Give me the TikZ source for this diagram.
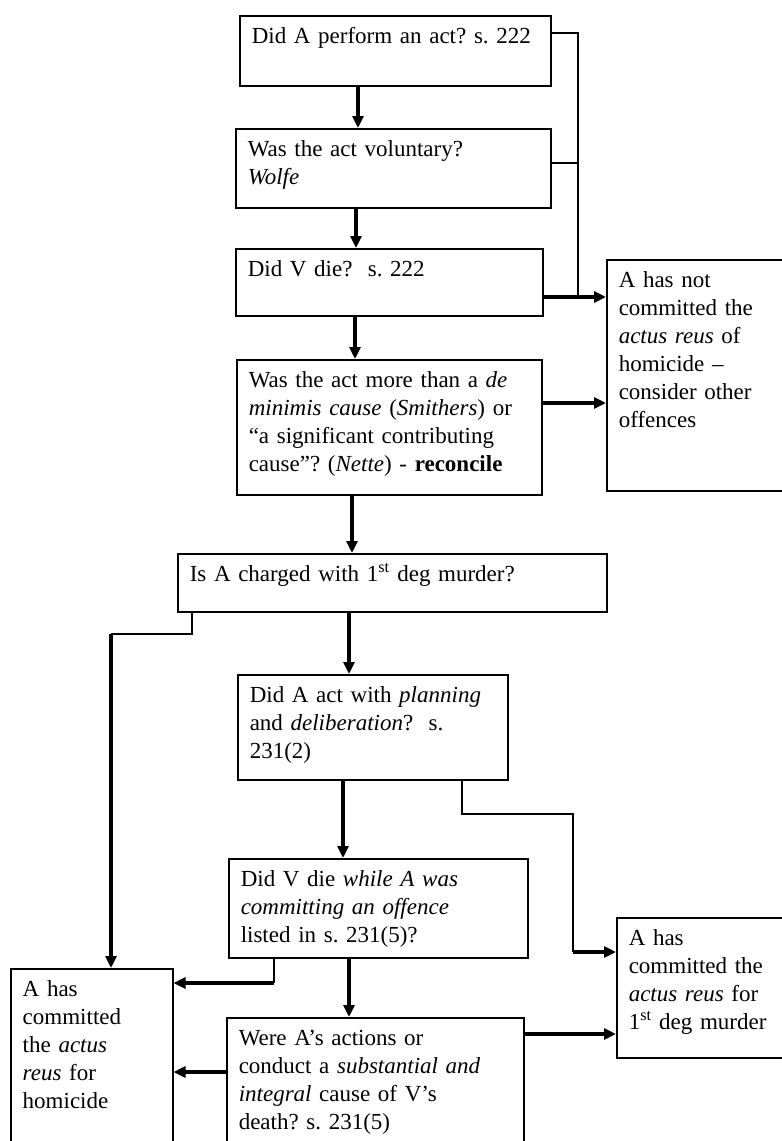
\documentclass[tikz,border=0pt]{standalone}
\usepackage{fontspec}
\setmainfont{Liberation Serif}
\usetikzlibrary{arrows.meta}
\frenchspacing

\begin{document}
\begin{tikzpicture}[x=1pt, y=-1pt,
  qbox/.style={draw, line width=1.5pt, anchor=north west, align=left,
    inner xsep=12pt, inner ysep=10pt, text height=18pt,
    font=\fontsize{23}{28}\selectfont},
  thinline/.style={line width=1.5pt},
  arr/.style={line width=3.2pt, -{Triangle[length=12pt,width=11pt]}}]
\useasboundingbox (0,0) rectangle (782,1141);
\clip (0,0) rectangle (782,1141);

\coordinate (J1) at (578,297);
\coordinate (J2) at (111,634);
\coordinate (J3) at (573,952);
\coordinate (J4) at (274,983);

\node[qbox, text width=287pt, text depth=32pt] (act) at (239,15) {Did A perform an act? s.~222};
\node[qbox, text width=291pt, text depth=41pt] (vol) at (235,128) {Was the act voluntary?\\ \textit{Wolfe}};
\node[qbox, text width=283pt, text depth=29pt] (die) at (235,248) {Did V die?\ \ s.~222};
\node[qbox, text width=281pt, text depth=97pt] (cause) at (236,359) {Was the act more than a \textit{de}\\ \textit{minimis cause} (\textit{Smithers}) or\\ ``a significant contributing\\ cause''? (\textit{Nette}) - \textbf{reconcile}};
\node[qbox, text width=196pt, text depth=193pt] (notar) at (606,259) {A has not\\ committed the\\ \textit{actus reus} of\\ homicide --\\ consider other\\ offences};
\node[qbox, text width=405pt, text depth=20pt] (charged) at (177,553) {Is A charged with 1\textsuperscript{st} deg murder?};
\node[qbox, text width=246pt, text depth=67pt] (plan) at (237,674) {Did A act with \textit{planning}\\ and \textit{deliberation}?\ \ s.\\ 231(2)};
\node[qbox, text width=275pt, text depth=61pt] (offence) at (228,858) {Did V die \textit{while A was}\\ \textit{committing an offence}\\ listed in s.~231(5)?};
\node[qbox, text width=273pt, text depth=102pt] (subst) at (226,1017) {Were A's actions or\\ conduct a \textit{substantial and}\\ \textit{integral} cause of V's\\ death? s.~231(5)};
\node[qbox, text width=138pt, text depth=152pt] (home) at (10,968) {A has\\ committed\\ the \textit{actus}\\ \textit{reus} for\\ homicide};
\node[qbox, text width=196pt, text depth=102pt] (first) at (616,917) {A has\\ committed the\\ \textit{actus reus} for\\ 1\textsuperscript{st} deg murder};

\draw[arr] (act.south -| 358,0) -- (vol.north -| 358,0);
\draw[arr] (vol.south -| 356,0) -- (die.north -| 356,0);
\draw[arr] (die.south -| 355,0) -- (cause.north -| 355,0);
\draw[arr] (cause.south -| 352,0) -- (charged.north -| 352,0);
\draw[arr] (charged.south -| 349,0) -- (plan.north -| 349,0);
\draw[arr] (plan.south -| 343,0) -- (offence.north -| 343,0);
\draw[arr] (offence.south -| 349,0) -- (subst.north -| 349,0);

\draw[thinline] (act.east |- 0,33) -| (J1);
\draw[thinline] (vol.east |- 0,163) -- (J1 |- 0,163);
\draw[arr] (die.east |- J1) -- (notar.west |- J1);
\draw[arr] (cause.east |- 0,403) -- (notar.west |- 0,403);

\draw[thinline] (charged.south -| 192,0) |- (J2);
\draw[arr] (J2) -- (home.north -| J2);

\draw[thinline] (plan.south -| 462,0) |- (573,814) -- (J3);
\draw[arr] (J3) -- (first.west |- J3);

\draw[thinline] (offence.south -| J4) -- (J4);
\draw[arr] (J4) -- (home.east |- J4);
\draw[arr] (subst.west |- 0,1072) -- (home.east |- 0,1072);
\draw[arr] (subst.east |- 0,1034) -- (first.west |- 0,1034);
\end{tikzpicture}
\end{document}
